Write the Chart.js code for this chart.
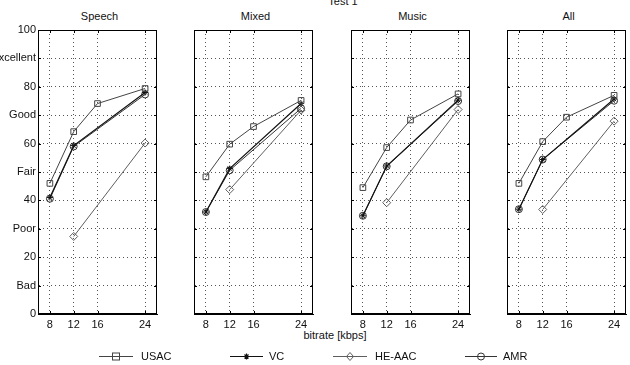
<!DOCTYPE html>
<html>
<head>
<meta charset="utf-8">
<script src="https://cdn.jsdelivr.net/npm/chart.js@4.4.1/dist/chart.umd.min.js"></script>
<style>
  html, body { margin: 0; padding: 0; background: #fff; }
  #wrap { position: relative; width: 630px; height: 365px; overflow: hidden; font-family: "Liberation Sans", Arial, sans-serif; color: #111; }
  canvas.panel { position: absolute; top: 0; }
  .ptitle { position: absolute; top: 10px; width: 119px; text-align: center; font-size: 11px; }
  #maintitle { position: absolute; top: -5px; left: 0; width: 686px; text-align: center; font-size: 11px; }
  #xlabel { position: absolute; top: 329px; left: 0; width: 670px; text-align: center; font-size: 11px; }
  .leg { position: absolute; top: 349px; font-size: 11px; height: 14px; line-height: 14px; }
  .leg svg { position: absolute; left: 0; top: 0; }
  .leg span { position: absolute; top: 0; white-space: nowrap; }
</style>
</head>
<body>
<div id="wrap">
  <div id="maintitle">Test 1</div>
  <div id="xlabel">bitrate [kbps]</div>
</div>
<script>
// ---- data ----
const bitrates = [8, 12, 16, 24];
const xTicks = [8, 12, 16, 24];
const yTickValues = [0, 10, 20, 30, 40, 50, 60, 70, 80, 90, 100];
const yTickLabels = ['0', 'Bad', '20', 'Poor', '40', 'Fair', '60', 'Good', '80', 'Excellent', '100'];
const panelTitles = ['Speech', 'Mixed', 'Music', 'All'];
const codecNames = ['USAC', 'VC', 'HE-AAC', 'AMR'];

// values per bitrate (8, 12, 16, 24); null = not tested
const usacSpeech  = [46.0, 64.2, 74.1, 79.4];
const vcSpeech    = [41.0, 59.3, null, 78.0];
const heaacSpeech = [null, 27.3, null, 60.2];
const amrSpeech   = [40.6, 59.0, null, 77.3];

const usacMixed  = [48.3, 59.8, 66.0, 75.2];
const vcMixed    = [35.9, 51.2, null, 74.1];
const heaacMixed = [null, 43.8, null, 71.8];
const amrMixed   = [35.9, 50.6, null, 72.4];

const usacMusic  = [44.5, 58.6, 68.3, 77.5];
const vcMusic    = [34.6, 52.1, null, 75.3];
const heaacMusic = [null, 39.2, null, 72.0];
const amrMusic   = [34.6, 52.0, null, 75.0];

const usacAll  = [46.0, 60.7, 69.3, 77.0];
const vcAll    = [36.9, 54.4, null, 75.7];
const heaacAll = [null, 36.8, null, 67.9];
const amrAll   = [36.9, 54.4, null, 75.1];

const panelSeries = [
  [usacSpeech, vcSpeech, heaacSpeech, amrSpeech],
  [usacMixed, vcMixed, heaacMixed, amrMixed],
  [usacMusic, vcMusic, heaacMusic, amrMusic],
  [usacAll, vcAll, heaacAll, amrAll]
];

// ---- styles ----
const codecStyles = [
  { color: '#444444', width: 1,   pointStyle: 'rect',    radius: 4 },
  { color: '#111111', width: 1.2, pointStyle: 'star',    radius: 3 },
  { color: '#5e5e5e', width: 1,   pointStyle: 'rectRot', radius: 4 },
  { color: '#333333', width: 1,   pointStyle: 'circle',  radius: 3.5 }
];
const panelLefts = [38, 194, 351, 507];
const plotW = 119, yAxisW = 38, padTop = 30, plotH = 284, xAxisH = 20, padRight = 5;
const FONT = "'Liberation Sans', Arial, sans-serif";

const framePlugin = {
  id: 'frame',
  afterDraw(chart) {
    const a = chart.chartArea, ctx = chart.ctx;
    ctx.save();
    ctx.strokeStyle = '#000';
    ctx.lineWidth = 1;
    ctx.setLineDash([]);
    ctx.strokeRect(Math.round(a.left) + 0.5, Math.round(a.top) + 0.5,
                   Math.round(a.right - a.left) - 1, Math.round(a.bottom - a.top) - 1);
    const xs = chart.scales.x, ys = chart.scales.y;
    ctx.beginPath();
    xTicks.forEach(v => {
      const px = Math.round(xs.getPixelForValue(v)) + 0.5;
      ctx.moveTo(px, a.bottom); ctx.lineTo(px, a.bottom - 3);
      ctx.moveTo(px, a.top); ctx.lineTo(px, a.top + 3);
    });
    yTickValues.forEach(v => {
      const py = Math.round(ys.getPixelForValue(v)) + 0.5;
      ctx.moveTo(a.left, py); ctx.lineTo(a.left + 3, py);
      ctx.moveTo(a.right, py); ctx.lineTo(a.right - 3, py);
    });
    ctx.stroke();
    ctx.restore();
  }
};

const wrap = document.getElementById('wrap');

panelTitles.forEach((title, p) => {
  const t = document.createElement('div');
  t.className = 'ptitle';
  t.style.left = (panelLefts[p] + 2) + 'px';
  t.textContent = title;
  wrap.appendChild(t);

  const cv = document.createElement('canvas');
  cv.className = 'panel';
  const W = yAxisW + plotW + padRight, H = padTop + plotH + xAxisH;
  cv.width = W; cv.height = H;
  cv.style.width = W + 'px'; cv.style.height = H + 'px';
  cv.style.left = (panelLefts[p] - yAxisW) + 'px';
  wrap.appendChild(cv);

  const datasets = panelSeries[p].map((vals, k) => ({
    label: codecNames[k],
    data: vals.map((v, i) => v == null ? null : { x: bitrates[i], y: v }).filter(Boolean),
    borderColor: codecStyles[k].color,
    borderWidth: codecStyles[k].width,
    pointStyle: codecStyles[k].pointStyle,
    pointRadius: codecStyles[k].radius,
    pointBorderColor: codecStyles[k].color,
    pointBackgroundColor: 'rgba(0,0,0,0)',
    pointBorderWidth: 1,
    tension: 0,
    fill: false
  }));

  new Chart(cv, {
    type: 'line',
    data: { datasets },
    plugins: [framePlugin],
    options: {
      responsive: false,
      animation: false,
      devicePixelRatio: 1,
      layout: { padding: { top: padTop, right: padRight, left: 0, bottom: 0 } },
      plugins: { legend: { display: false }, tooltip: { enabled: false }, title: { display: false } },
      scales: {
        x: {
          type: 'linear', min: 6, max: 26,
          afterBuildTicks: s => { s.ticks = xTicks.map(v => ({ value: v })); },
          afterFit: s => { s.height = xAxisH; },
          ticks: { color: '#111', font: { family: FONT, size: 11 }, padding: 4, maxRotation: 0,
                   callback: v => String(v) },
          grid: { color: '#555', drawTicks: false, lineWidth: 1 },
          border: { display: true, color: '#000', width: 1, dash: [1, 3] }
        },
        y: {
          type: 'linear', min: 0, max: 100,
          afterBuildTicks: s => { s.ticks = yTickValues.map(v => ({ value: v })); },
          afterFit: s => { s.width = yAxisW; },
          ticks: { display: p === 0, color: '#111', font: { family: FONT, size: 11 }, padding: 2,
                   callback: v => yTickLabels[yTickValues.indexOf(v)] },
          grid: { color: '#555', drawTicks: false, lineWidth: 1 },
          border: { display: true, color: '#000', width: 1, dash: [1, 3] }
        }
      }
    }
  });
});

// ---- legend ----
const legendPos = [
  { line: [99, 133], text: 141 },
  { line: [230, 263], text: 269 },
  { line: [333, 367], text: 375 },
  { line: [465, 497], text: 503 }
];
function markerSvg(k, cx, cy) {
  const c = codecStyles[k].color;
  switch (codecStyles[k].pointStyle) {
    case 'rect': return `<rect x="${cx-3.5}" y="${cy-3.5}" width="7" height="7" fill="none" stroke="${c}"/>`;
    case 'star': return `<path d="M${cx} ${cy-3}V${cy+3}M${cx-3} ${cy}H${cx+3}M${cx-2} ${cy-2}L${cx+2} ${cy+2}M${cx-2} ${cy+2}L${cx+2} ${cy-2}" stroke="${c}" stroke-width="1.2"/>`;
    case 'rectRot': return `<path d="M${cx} ${cy-4}L${cx+3.5} ${cy}L${cx} ${cy+4}L${cx-3.5} ${cy}Z" fill="none" stroke="${c}"/>`;
    default: return `<circle cx="${cx}" cy="${cy}" r="3.5" fill="none" stroke="${c}"/>`;
  }
}
codecNames.forEach((name, k) => {
  const lp = legendPos[k];
  const d = document.createElement('div');
  d.className = 'leg';
  d.style.left = lp.line[0] + 'px';
  const w = lp.line[1] - lp.line[0];
  const cx = w / 2, cy = 7.5;
  d.innerHTML = `<svg width="${w}" height="15" xmlns="http://www.w3.org/2000/svg">
    <line x1="0" y1="${cy}" x2="${w}" y2="${cy}" stroke="${codecStyles[k].color}" stroke-width="1"/>
    ${markerSvg(k, cx, cy)}</svg><span style="left:${lp.text - lp.line[0]}px">${name}</span>`;
  wrap.appendChild(d);
});
</script>
</body>
</html>
